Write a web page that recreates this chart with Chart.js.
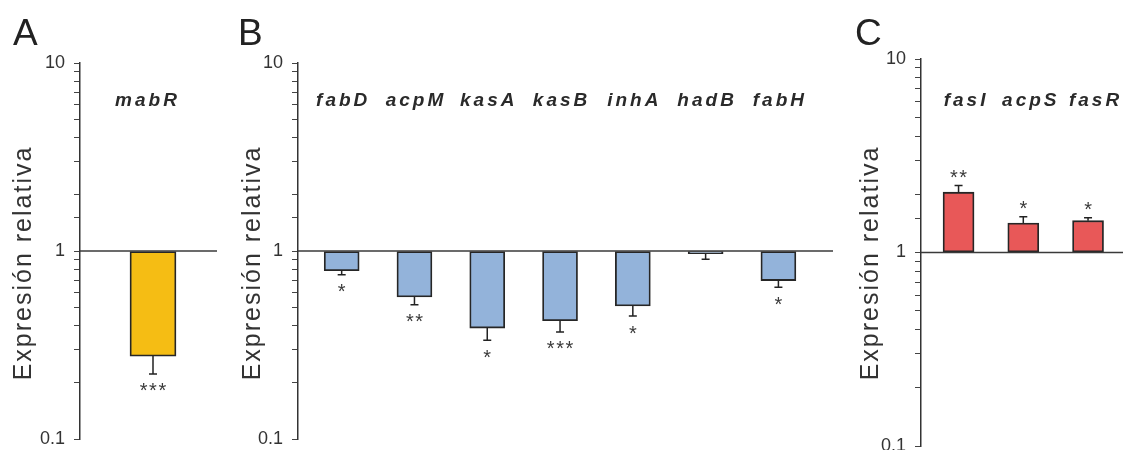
<!DOCTYPE html>
<html>
<head>
<meta charset="utf-8">
<script src="https://cdn.jsdelivr.net/npm/chart.js@4"></script>
<style>
  html, body { margin: 0; padding: 0; background: #fff; }
  #fig { position: relative; width: 1123px; height: 450px; overflow: hidden; }
  #fig canvas { position: absolute; top: 0; }
</style>
</head>
<body>
<div id="fig">
  <canvas id="panelA" width="217" height="480" style="left:0px"></canvas>
  <canvas id="panelB" width="608" height="480" style="left:225px"></canvas>
  <canvas id="panelC" width="283" height="480" style="left:840px"></canvas>
</div>
<script>
// Relative expression (fold change, log axis) with the lower/upper end of each error bar
const genesA = ['mabR'];
const exprA  = [0.276];
const errA   = [0.222];
const sigA   = ['***'];

const genesB = ['fabD', 'acpM', 'kasA', 'kasB', 'inhA', 'hadB', 'fabH'];
const exprB  = [0.785, 0.569, 0.389, 0.426, 0.510, 0.969, 0.696];
const errB   = [0.748, 0.518, 0.335, 0.371, 0.451, 0.903, 0.641];
const sigB   = ['*', '**', '*', '***', '*', '', '*'];

const genesC = ['fasI', 'acpS', 'fasR'];
const exprC  = [2.05, 1.42, 1.46];
const errC   = [2.22, 1.53, 1.51];
const sigC   = ['**', '*', '*'];

const yTickLabels = [0.1, 1, 10];
const yTitle = 'Expresión relativa';

const FONT = "'Liberation Sans', Arial, Helvetica, sans-serif";

// Reference line at 1, error whiskers, significance stars, gene names, axis title and panel letter
const figurePlugin = {
  id: 'figure',
  afterDatasetsDraw(chart, args, opts) {
    const { ctx, chartArea } = chart;
    const ys = chart.scales.y;
    const ds = chart.data.datasets[0];
    const meta = chart.getDatasetMeta(0);
    ctx.save();

    const y1 = ys.getPixelForValue(1);
    ctx.strokeStyle = '#3a3a3a';
    ctx.lineWidth = 1.5;
    ctx.beginPath();
    ctx.moveTo(chartArea.left, y1);
    ctx.lineTo(chartArea.right, y1);
    ctx.stroke();

    ds.data.forEach((pt, i) => {
      const bar = meta.data[i];
      const yv = ys.getPixelForValue(pt.y);
      const ye = ys.getPixelForValue(ds.errorEnd[i]);
      ctx.strokeStyle = '#222';
      ctx.lineWidth = 1.5;
      ctx.beginPath();
      ctx.moveTo(bar.x, yv);
      ctx.lineTo(bar.x, ye);
      ctx.moveTo(bar.x - 4, ye);
      ctx.lineTo(bar.x + 4, ye);
      ctx.stroke();

      const star = ds.stars[i];
      if (star) {
        const down = pt.y < 1;
        const cy = down ? ye + 12 : ye - 13;
        ctx.fillStyle = '#3a3a3a';
        ctx.font = '20px ' + FONT;
        ctx.letterSpacing = '1.5px';
        ctx.textAlign = 'center';
        ctx.textBaseline = 'alphabetic';
        ctx.fillText(star, bar.x + 0.75, cy + 11.5);
      }

      ctx.fillStyle = '#2a2a2a';
      ctx.font = 'italic bold 19px ' + FONT;
      ctx.letterSpacing = '3px';
      ctx.textAlign = 'center';
      ctx.textBaseline = 'alphabetic';
      ctx.fillText(ds.genes[i], bar.x + opts.labelShift + 1.5, 106);
    });
    ctx.restore();
  },
  afterDraw(chart, args, opts) {
    const { ctx } = chart;
    ctx.save();
    ctx.fillStyle = '#333';
    ctx.font = '25px ' + FONT;
    ctx.letterSpacing = '2px';
    ctx.textAlign = 'center';
    ctx.textBaseline = 'middle';
    ctx.translate(opts.titleX, 263);
    ctx.rotate(-Math.PI / 2);
    ctx.fillText(yTitle, 0, 0);
    ctx.restore();

    ctx.save();
    ctx.fillStyle = '#222';
    ctx.font = '37px ' + FONT;
    ctx.textAlign = 'left';
    ctx.textBaseline = 'alphabetic';
    ctx.fillText(opts.letter, opts.letterX, 45);
    ctx.restore();
  }
};

function panel(id, cfg) {
  return new Chart(document.getElementById(id), {
    type: 'bar',
    data: {
      datasets: [{
        data: cfg.values.map((v, i) => ({ x: i, y: v })),
        errorEnd: cfg.errors,
        stars: cfg.stars,
        genes: cfg.genes,
        base: 1,
        backgroundColor: cfg.color,
        borderColor: '#262626',
        borderWidth: 1.8,
        borderSkipped: false,
        barThickness: cfg.barWidth
      }]
    },
    options: {
      responsive: false,
      animation: false,
      events: [],
      layout: { padding: cfg.padding },
      scales: {
        x: { type: 'linear', display: false, offset: false, min: cfg.xMin, max: cfg.xMax },
        y: {
          type: 'logarithmic',
          min: 0.1,
          max: 10,
          afterFit(s) { s.width = cfg.axisWidth; },
          ticks: {
            autoSkip: false,
            padding: 9,
            color: '#333',
            font: { family: FONT, size: 18 },
            callback: (v) => yTickLabels.includes(v) ? String(v) : ''
          },
          grid: { drawOnChartArea: false, drawTicks: true, tickLength: 6, color: '#444', lineWidth: 1 },
          border: { color: '#333', width: 1.5 }
        }
      },
      plugins: {
        legend: { display: false },
        tooltip: { enabled: false },
        figure: { letter: cfg.letter, letterX: cfg.letterX, titleX: cfg.titleX, labelShift: cfg.labelShift }
      }
    },
    plugins: [figurePlugin]
  });
}

panel('panelA', {
  genes: genesA, values: exprA, errors: errA, stars: sigA,
  color: '#F5BD14', barWidth: 46,
  xMin: -0.73, xMax: 0.64, axisWidth: 80,
  padding: { top: 63, bottom: 41, left: 0, right: 0 },
  letter: 'A', letterX: 13, titleX: 24.5, labelShift: -7
});

panel('panelB', {
  genes: genesB, values: exprB, errors: errB, stars: sigB,
  color: '#93B3DA', barWidth: 35,
  xMin: -0.60, xMax: 6.75, axisWidth: 73,
  padding: { top: 63, bottom: 41, left: 0, right: 0 },
  letter: 'B', letterX: 13, titleX: 28, labelShift: 0
});

panel('panelC', {
  genes: genesC, values: exprC, errors: errC, stars: sigC,
  color: '#E85858', barWidth: 31,
  xMin: -0.58, xMax: 2.54, axisWidth: 81,
  padding: { top: 59, bottom: 34, left: 0, right: 0 },
  letter: 'C', letterX: 15, titleX: 31, labelShift: 6
});
</script>
</body>
</html>
